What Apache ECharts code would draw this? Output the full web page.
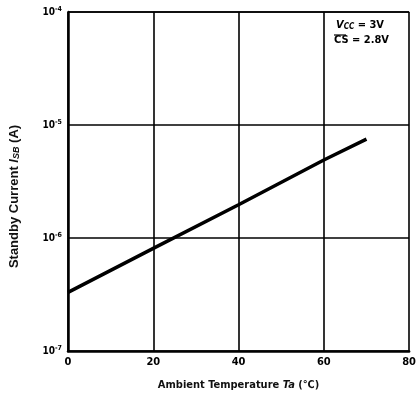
<!DOCTYPE html>
<html>
<head>
<meta charset="utf-8">
<script src="https://cdn.jsdelivr.net/npm/echarts@6/dist/echarts.min.js"></script>
<style>
  html, body { margin: 0; padding: 0; background: #fff; }
  #chart { width: 419px; height: 396px; }
</style>
</head>
<body>
<div id="chart"></div>
<script>
// Standby current versus ambient temperature (Vcc = 3 V, CS = 2.8 V)
const temperatures = [0, 20, 40, 60, 70];
const standbyCurrent = [3.3e-7, 8.1e-7, 1.97e-6, 4.9e-6, 7.5e-6];
const xTicks = [0, 20, 40, 60, 80];
const yExponents = [-7, -6, -5, -4];

const FONT = '"Liberation Sans Narrow", "DejaVu Sans Condensed", "Liberation Sans", sans-serif';
const NAME_FONT = '"Liberation Sans Narrow", "Liberation Sans", sans-serif';

const chart = echarts.init(document.getElementById('chart'), null, { renderer: 'canvas' });

chart.setOption({
  animation: false,
  backgroundColor: '#ffffff',
  grid: { left: 66, right: 6, top: 12, bottom: 44, containLabel: false },
  xAxis: {
    type: 'value',
    min: xTicks[0],
    max: xTicks[xTicks.length - 1],
    interval: 20,
    name: 'Ambient Temperature {i|Ta} (℃)',
    nameLocation: 'middle',
    nameGap: 29,
    nameTextStyle: {
      color: '#111', fontFamily: FONT, fontSize: 11, fontWeight: 'bold',
      rich: { i: { fontStyle: 'italic', fontFamily: FONT, fontSize: 11, fontWeight: 'bold', color: '#111' } }
    },
    axisLine: { show: true, lineStyle: { color: '#000', width: 2.5 } },
    axisTick: { show: false },
    splitLine: { show: true, lineStyle: { color: '#000', width: 1.6 } },
    axisLabel: {
      color: '#000', fontFamily: FONT, fontSize: 11, fontWeight: 'bold', margin: 6,
      formatter: v => String(v)
    }
  },
  yAxis: {
    type: 'log',
    logBase: 10,
    min: Math.pow(10, yExponents[0]),
    max: Math.pow(10, yExponents[yExponents.length - 1]),
    name: 'Standby Current {i|I}{sub|SB} (A)',
    nameLocation: 'middle',
    nameRotate: 90,
    nameGap: 47,
    nameTextStyle: {
      color: '#111', fontFamily: NAME_FONT, fontSize: 13, fontWeight: 'bold',
      padding: [0, 30, 0, 0],
      rich: {
        i: { fontStyle: 'italic', fontFamily: NAME_FONT, fontSize: 13, fontWeight: 'bold', color: '#111' },
        sub: { fontStyle: 'italic', fontFamily: NAME_FONT, fontSize: 9, fontWeight: 'bold', color: '#111', padding: [4, 0, 0, 0] }
      }
    },
    axisLine: { show: true, lineStyle: { color: '#000', width: 2.5 } },
    axisTick: { show: false },
    splitLine: { show: true, lineStyle: { color: '#000', width: 1.6 } },
    axisLabel: {
      margin: 6,
      formatter: v => '{b|10}{s|' + Math.round(Math.log10(v)) + '}',
      rich: {
        b: { fontFamily: FONT, fontSize: 10, fontWeight: 'bold', color: '#000' },
        s: { fontFamily: FONT, fontSize: 7, fontWeight: 'bold', color: '#000', padding: [0, 0, 6, 0] }
      }
    }
  },
  series: [{
    type: 'line',
    data: temperatures.map((t, i) => [t, standbyCurrent[i]]),
    showSymbol: false,
    symbol: 'none',
    lineStyle: { color: '#000', width: 3.5 },
    silent: true
  }],
  graphic: [
    {
      type: 'text',
      left: 336, top: 20,
      style: {
        text: '{i|V}{sub|CC}{n| = 3V}',
        rich: {
          i: { fontFamily: FONT, fontStyle: 'italic', fontSize: 11, fontWeight: 'bold', fill: '#000' },
          sub: { fontFamily: FONT, fontStyle: 'italic', fontSize: 8, fontWeight: 'bold', fill: '#000', padding: [3, 0, 0, 0] },
          n: { fontFamily: FONT, fontSize: 11, fontWeight: 'bold', fill: '#000' }
        }
      }
    },
    {
      type: 'text',
      left: 334, top: 35,
      style: {
        text: 'CS = 2.8V',
        fontFamily: FONT, fontSize: 11, fontWeight: 'bold', fill: '#000'
      }
    },
    {
      type: 'line',
      shape: { x1: 334, y1: 35, x2: 346, y2: 35 },
      style: { stroke: '#000', lineWidth: 1.2 }
    }
  ]
});
</script>
</body>
</html>
